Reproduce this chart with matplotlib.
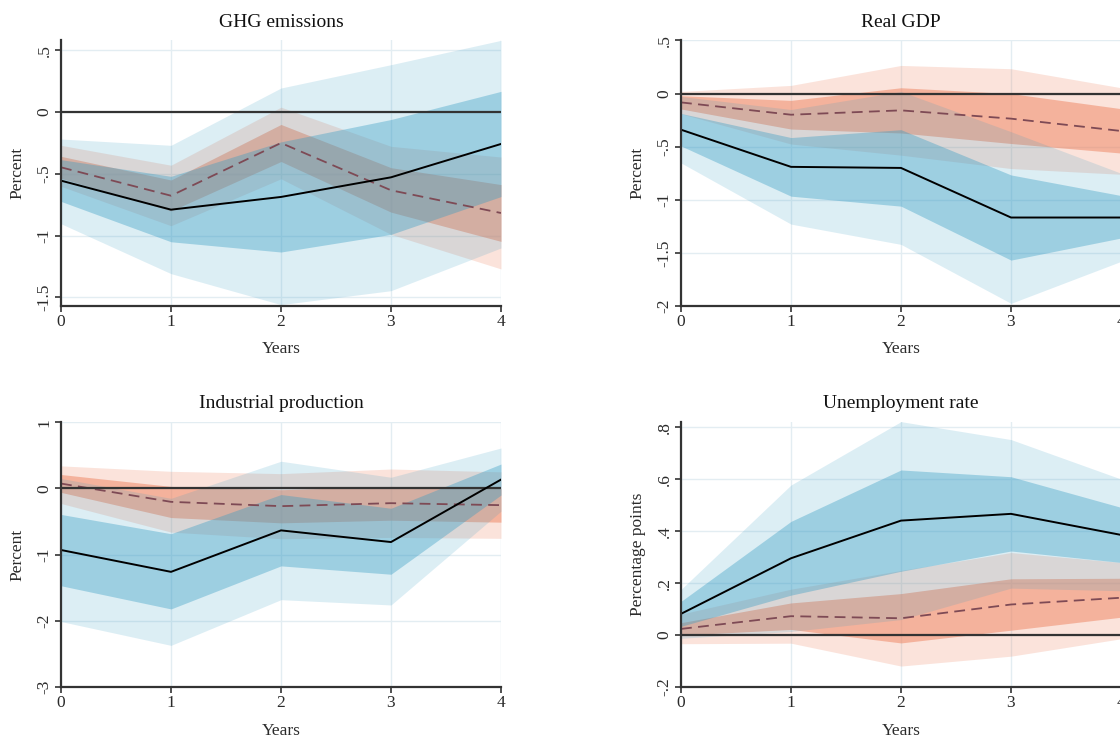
import numpy as np
import matplotlib
matplotlib.use('Agg')
import matplotlib.pyplot as plt

plt.rcParams['font.family'] = ['Liberation Serif', 'DejaVu Serif']

years = [0, 1, 2, 3, 4]

# GHG emissions  (a = solid / blue, b = dashed / orange)
ghg_a        = [-0.555, -0.79, -0.687, -0.528, -0.258]
ghg_a_in_lo  = [-0.723, -1.05, -1.133, -0.99, -0.684]
ghg_a_in_hi  = [-0.385, -0.52, -0.241, -0.06, 0.168]
ghg_a_out_lo = [-0.904, -1.308, -1.559, -1.446, -1.10]
ghg_a_out_hi = [-0.218, -0.269, 0.195, 0.384, 0.581]
ghg_b        = [-0.447, -0.677, -0.25, -0.633, -0.817]
ghg_b_in_lo  = [-0.536, -0.80, -0.40, -0.81, -1.047]
ghg_b_in_hi  = [-0.358, -0.55, -0.10, -0.45, -0.587]
ghg_b_out_lo = [-0.601, -0.92, -0.54, -0.99, -1.27]
ghg_b_out_hi = [-0.269, -0.43, 0.04, -0.277, -0.364]

# Real GDP
gdp_a        = [-0.34, -0.69, -0.70, -1.167, -1.167]
gdp_a_in_lo  = [-0.493, -0.966, -1.06, -1.568, -1.36]
gdp_a_in_hi  = [-0.187, -0.414, -0.34, -0.766, -0.96]
gdp_a_out_lo = [-0.653, -1.229, -1.42, -1.975, -1.58]
gdp_a_out_hi = [-0.027, -0.15, 0.02, -0.359, -0.75]
gdp_b        = [-0.083, -0.199, -0.158, -0.236, -0.352]
gdp_b_in_lo  = [-0.145, -0.334, -0.371, -0.47, -0.56]
gdp_b_in_hi  = [-0.02, -0.064, 0.055, 0.0, -0.142]
gdp_b_out_lo = [-0.19, -0.475, -0.58, -0.706, -0.76]
gdp_b_out_hi = [0.02, 0.077, 0.265, 0.234, 0.055]

# Industrial production
ip_a        = [-0.93, -1.26, -0.634, -0.81, 0.133]
ip_a_in_lo  = [-1.47, -1.82, -1.17, -1.296, -0.10]
ip_a_in_hi  = [-0.393, -0.684, -0.093, -0.30, 0.368]
ip_a_out_lo = [-2.01, -2.37, -1.68, -1.76, -0.344]
ip_a_out_hi = [0.15, -0.15, 0.41, 0.168, 0.61]
ip_b        = [0.073, -0.203, -0.268, -0.223, -0.253]
ip_b_in_lo  = [-0.06, -0.44, -0.52, -0.48, -0.51]
ip_b_in_hi  = [0.21, 0.03, -0.02, 0.03, 0.0]
ip_b_out_lo = [-0.228, -0.66, -0.76, -0.74, -0.754]
ip_b_out_hi = [0.34, 0.258, 0.223, 0.293, 0.25]

# Unemployment rate
ur_a        = [0.082, 0.296, 0.441, 0.467, 0.386]
ur_a_in_lo  = [0.034, 0.154, 0.246, 0.324, 0.28]
ur_a_in_hi  = [0.13, 0.438, 0.636, 0.61, 0.492]
ur_a_out_lo = [-0.012, 0.014, 0.06, 0.181, 0.171]
ur_a_out_hi = [0.176, 0.578, 0.822, 0.753, 0.601]
ur_b        = [0.024, 0.073, 0.065, 0.118, 0.144]
ur_b_in_lo  = [0.0, 0.022, -0.03, 0.019, 0.069]
ur_b_in_hi  = [0.048, 0.124, 0.16, 0.217, 0.219]
ur_b_out_lo = [-0.033, -0.031, -0.119, -0.081, -0.014]
ur_b_out_hi = [0.081, 0.177, 0.249, 0.318, 0.28]

blue   = (50/255, 155/255, 195/255)
orange = (238/255, 130/255, 95/255)
ink    = '#2b2b2b'


def panel(ax, title, ylab, a, a_in, a_out, b, b_in, b_out, ylim, yticks, ylabels):
    ax.fill_between(years, b_out[0], b_out[1], color=orange, alpha=0.22, lw=0)
    ax.fill_between(years, b_in[0], b_in[1], color=orange, alpha=0.5, lw=0)
    ax.plot(years, b, color='#7e4a55', ls=(0, (6, 3.5)), lw=1.3)
    ax.fill_between(years, a_out[0], a_out[1], color=blue, alpha=0.17, lw=0)
    ax.fill_between(years, a_in[0], a_in[1], color=blue, alpha=0.37, lw=0)
    ax.axhline(0, color='#333333', lw=1.6)
    ax.plot(years, a, color='black', lw=1.4)

    ax.set_xlim(0, 4)
    ax.set_ylim(*ylim)
    ax.set_xticks(years)
    ax.set_yticks(yticks)
    ax.set_yticklabels(ylabels, rotation=90, va='center')
    ax.set_axisbelow(True)
    ax.grid(color='#e3edf2', lw=1.0)
    for s in ['top', 'right']:
        ax.spines[s].set_visible(False)
    for s in ['left', 'bottom']:
        ax.spines[s].set_linewidth(1.6)
        ax.spines[s].set_color('#333333')
    ax.tick_params(direction='out', length=4, width=1.2, color='#333333',
                   labelsize=12.5, labelcolor=ink, pad=2)
    ax.set_title(title, fontsize=14, color='#111111', pad=10)
    ax.set_xlabel('Years', fontsize=12.5, color=ink, labelpad=8)
    ax.set_ylabel(ylab, fontsize=12.5, color=ink, labelpad=8)


fig = plt.figure(figsize=(11.2, 7.4), dpi=100)
w = 440 / 1120
ax1 = fig.add_axes([61 / 1120, 0.5865, w, 0.3588])
ax2 = fig.add_axes([681 / 1120, 0.5865, w, 0.3588])
ax3 = fig.add_axes([61 / 1120, 0.0715, w, 0.3580])
ax4 = fig.add_axes([681 / 1120, 0.0715, w, 0.3580])

panel(ax1, 'GHG emissions', 'Percent', ghg_a, (ghg_a_in_lo, ghg_a_in_hi),
      (ghg_a_out_lo, ghg_a_out_hi), ghg_b, (ghg_b_in_lo, ghg_b_in_hi),
      (ghg_b_out_lo, ghg_b_out_hi), (-1.57, 0.58),
      [-1.5, -1, -0.5, 0, 0.5], ['-1.5', '-1', '-.5', '0', '.5'])
panel(ax2, 'Real GDP', 'Percent', gdp_a, (gdp_a_in_lo, gdp_a_in_hi),
      (gdp_a_out_lo, gdp_a_out_hi), gdp_b, (gdp_b_in_lo, gdp_b_in_hi),
      (gdp_b_out_lo, gdp_b_out_hi), (-2, 0.5),
      [-2, -1.5, -1, -0.5, 0, 0.5], ['-2', '-1.5', '-1', '-.5', '0', '.5'])
panel(ax3, 'Industrial production', 'Percent', ip_a, (ip_a_in_lo, ip_a_in_hi),
      (ip_a_out_lo, ip_a_out_hi), ip_b, (ip_b_in_lo, ip_b_in_hi),
      (ip_b_out_lo, ip_b_out_hi), (-3, 1),
      [-3, -2, -1, 0, 1], ['-3', '-2', '-1', '0', '1'])
panel(ax4, 'Unemployment rate', 'Percentage points', ur_a, (ur_a_in_lo, ur_a_in_hi),
      (ur_a_out_lo, ur_a_out_hi), ur_b, (ur_b_in_lo, ur_b_in_hi),
      (ur_b_out_lo, ur_b_out_hi), (-0.2, 0.82),
      [-0.2, 0, 0.2, 0.4, 0.6, 0.8], ['-.2', '0', '.2', '.4', '.6', '.8'])

fig.savefig('out.png', dpi=100)
